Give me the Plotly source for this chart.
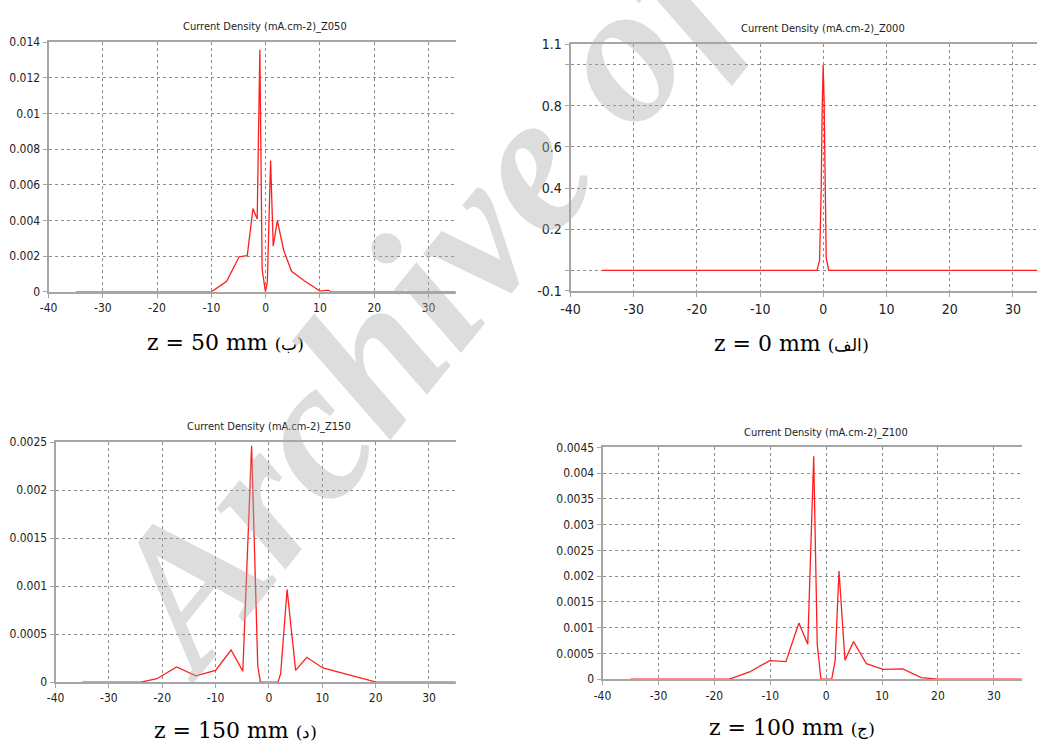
import plotly.graph_objects as go

W, H = 1037, 754

# ---------------- data ----------------
z050_x = [-35, -10, -7.2, -4.9, -3.4, -2.35, -1.57, -1.08, -0.66, -0.05, 0.3, 0.9, 1.38, 2.15, 3.3, 4.75, 7.1, 10.0, 11.5, 12.0, 35]
z050_y = [0, 0, 0.00059, 0.00197, 0.00203, 0.00467, 0.00408, 0.01358, 0.00128, 0, 0.00055, 0.00736, 0.00256, 0.00400, 0.00235, 0.00115, 0.00062, 0.00004, 0.0001, 0, 0]

z000_x = [-35, -1.0, -0.6, -0.35, -0.18, -0.03, 0.12, 0.25, 0.45, 0.85, 35]
z000_y = [0, 0, 0.05, 0.38, 0.80, 1.0, 0.82, 0.50, 0.06, 0, 0]

z150_x = [-35, -24, -21, -17.3, -13.7, -10.0, -7.1, -4.9, -3.25, -2.1, -1.6, 1.7, 2.2, 3.4, 5.0, 7.1, 10.1, 20.1, 35]
z150_y = [0, 0, 0.000035, 0.000157, 0.000065, 0.000122, 0.000334, 0.000114, 0.002463, 0.00017, 0, 0, 0.00009, 0.000966, 0.000122, 0.000259, 0.000147, 0, 0]

z100_x = [-35, -17.3, -13.7, -10.1, -7.2, -4.88, -3.29, -2.23, -1.6, -0.94, 1.0, 1.6, 2.3, 3.36, 4.9, 7.2, 10.2, 13.7, 17.0, 19.9, 35]
z100_y = [0, 0, 0.00014, 0.00036, 0.00034, 0.00109, 0.00068, 0.00433, 0.00068, 0, 0, 0.00036, 0.0021, 0.00037, 0.00073, 0.0003, 0.00019, 0.0002, 0.00003, 0, 0]

x_ticks = [-40, -30, -20, -10, 0, 10, 20, 30]
x_ticktext = ["-40", "-30", "-20", "-10", "0", "10", "20", "30"]

z050_yticks = [0, 0.002, 0.004, 0.006, 0.008, 0.01, 0.012, 0.014]
z050_yticktext = ["0", "0.002", "0.004", "0.006", "0.008", "0.01", "0.012", "0.014"]
z000_yticks = [-0.1, 0, 0.2, 0.4, 0.6, 0.8, 1.0, 1.1]
z000_yticktext = ["-0.1", "", "0.2", "0.4", "0.6", "0.8", "", "1.1"]
z150_yticks = [0, 0.0005, 0.001, 0.0015, 0.002, 0.0025]
z150_yticktext = ["0", "0.0005", "0.001", "0.0015", "0.002", "0.0025"]
z100_yticks = [0, 0.0005, 0.001, 0.0015, 0.002, 0.0025, 0.003, 0.0035, 0.004, 0.0045]
z100_yticktext = ["0", "0.0005", "0.001", "0.0015", "0.002", "0.0025", "0.003", "0.0035", "0.004", "0.0045"]

titles = ["Current Density (mA.cm-2)_Z050", "Current Density (mA.cm-2)_Z000",
          "Current Density (mA.cm-2)_Z150", "Current Density (mA.cm-2)_Z100"]
captions = [("z = 50 mm", "ب"), ("z = 0 mm", "الف"), ("z = 150 mm", "د"), ("z = 100 mm", "ج")]

# ---------------- layout helpers ----------------
def px(x):
    return x / W

def py(y):
    return 1 - y / H

NARROW = "DejaVu Sans Condensed, Liberation Sans Narrow, DejaVu Sans, sans-serif"
LINE = dict(color="#ff1e1e", width=1.3)

fig = go.Figure()
series = [(z050_x, z050_y), (z000_x, z000_y), (z150_x, z150_y), (z100_x, z100_y)]
for i, (xs, ys) in enumerate(series):
    sfx = "" if i == 0 else str(i + 1)
    fig.add_trace(go.Scatter(x=xs, y=ys, mode="lines", line=LINE, showlegend=False,
                             xaxis="x" + sfx, yaxis="y" + sfx, hoverinfo="skip"))

# pixel boxes (left, right, top, bottom)
boxes = [(39, 450, 35, 290), (566, 1037, 37, 289), (46, 450, 443.7, 688.7), (598.3, 1021.7, 449, 685.7)]
xranges = [[-40, 35], [-40, 33.8], [-40, 35], [-40, 35]]
yranges = [[0, 0.014], [-0.1, 1.1], [0, 0.0025], [0, 0.0045]]
yticks = [(z050_yticks, z050_yticktext), (z000_yticks, z000_yticktext),
          (z150_yticks, z150_yticktext), (z100_yticks, z100_yticktext)]
tickfonts = [dict(family=NARROW, size=12, color="#222222"),
             dict(family=NARROW, size=14, color="#222222"),
             dict(family=NARROW, size=12, color="#222222"),
             dict(family=NARROW, size=12, color="#222222")]

layout = dict(width=W, height=H, margin=dict(l=0, r=0, t=0, b=0),
              paper_bgcolor="white", plot_bgcolor="white", showlegend=False)

axis_common = dict(showline=True, linecolor="#a6a6a6", linewidth=2,
                   showgrid=True, gridcolor="#8c8c8c", gridwidth=1, griddash="dot",
                   zeroline=False, ticks="outside", ticklen=4, tickcolor="#a6a6a6", tickwidth=1)

for i, (l, r, t, b) in enumerate(boxes):
    sfx = "" if i == 0 else str(i + 1)
    layout["xaxis" + sfx] = dict(axis_common, domain=[px(l), px(r)], range=xranges[i],
                                 anchor="y" + sfx, mirror=True,
                                 tickmode="array", tickvals=x_ticks, ticktext=x_ticktext,
                                 tickfont=tickfonts[i])
    layout["yaxis" + sfx] = dict(axis_common, domain=[py(b), py(t)], range=yranges[i],
                                 anchor="x" + sfx, mirror=False,
                                 tickmode="array", tickvals=yticks[i][0], ticktext=yticks[i][1],
                                 tickfont=tickfonts[i])

annotations = []
title_pos = [(257.5, 19), (821, 21), (262, 428), (824, 434)]
for (tx, ty), txt in zip(title_pos, titles):
    annotations.append(dict(x=px(tx), y=py(ty), xref="paper", yref="paper", text=txt,
                            showarrow=False, xanchor="center", yanchor="middle",
                            font=dict(family=NARROW, size=11, color="#222222")))

cap_pos = [(218, 342), (789, 343), (228, 738), (790, 735)]
for (cx, cy), (main, ar) in zip(cap_pos, captions):
    annotations.append(dict(x=px(cx), y=py(cy), xref="paper", yref="paper",
                            text=main + ' <span style="font-size:17px">(' + ar + ')</span>',
                            showarrow=False, xanchor="center", yanchor="middle",
                            font=dict(family="DejaVu Serif, Liberation Serif, serif", size=22, color="#000000")))

# watermark
annotations.append(dict(x=px(530), y=py(150), xref="paper", yref="paper",
                        text="<b><i>Archive of SID</i></b>", showarrow=False, textangle=-51,
                        xanchor="center", yanchor="middle",
                        font=dict(family="Liberation Serif, DejaVu Serif, serif", size=200,
                                  color="rgba(170,170,170,0.4)", weight="bold", style="italic")))

layout["annotations"] = annotations
fig.update_layout(**layout)
fig.write_html("out.html")
